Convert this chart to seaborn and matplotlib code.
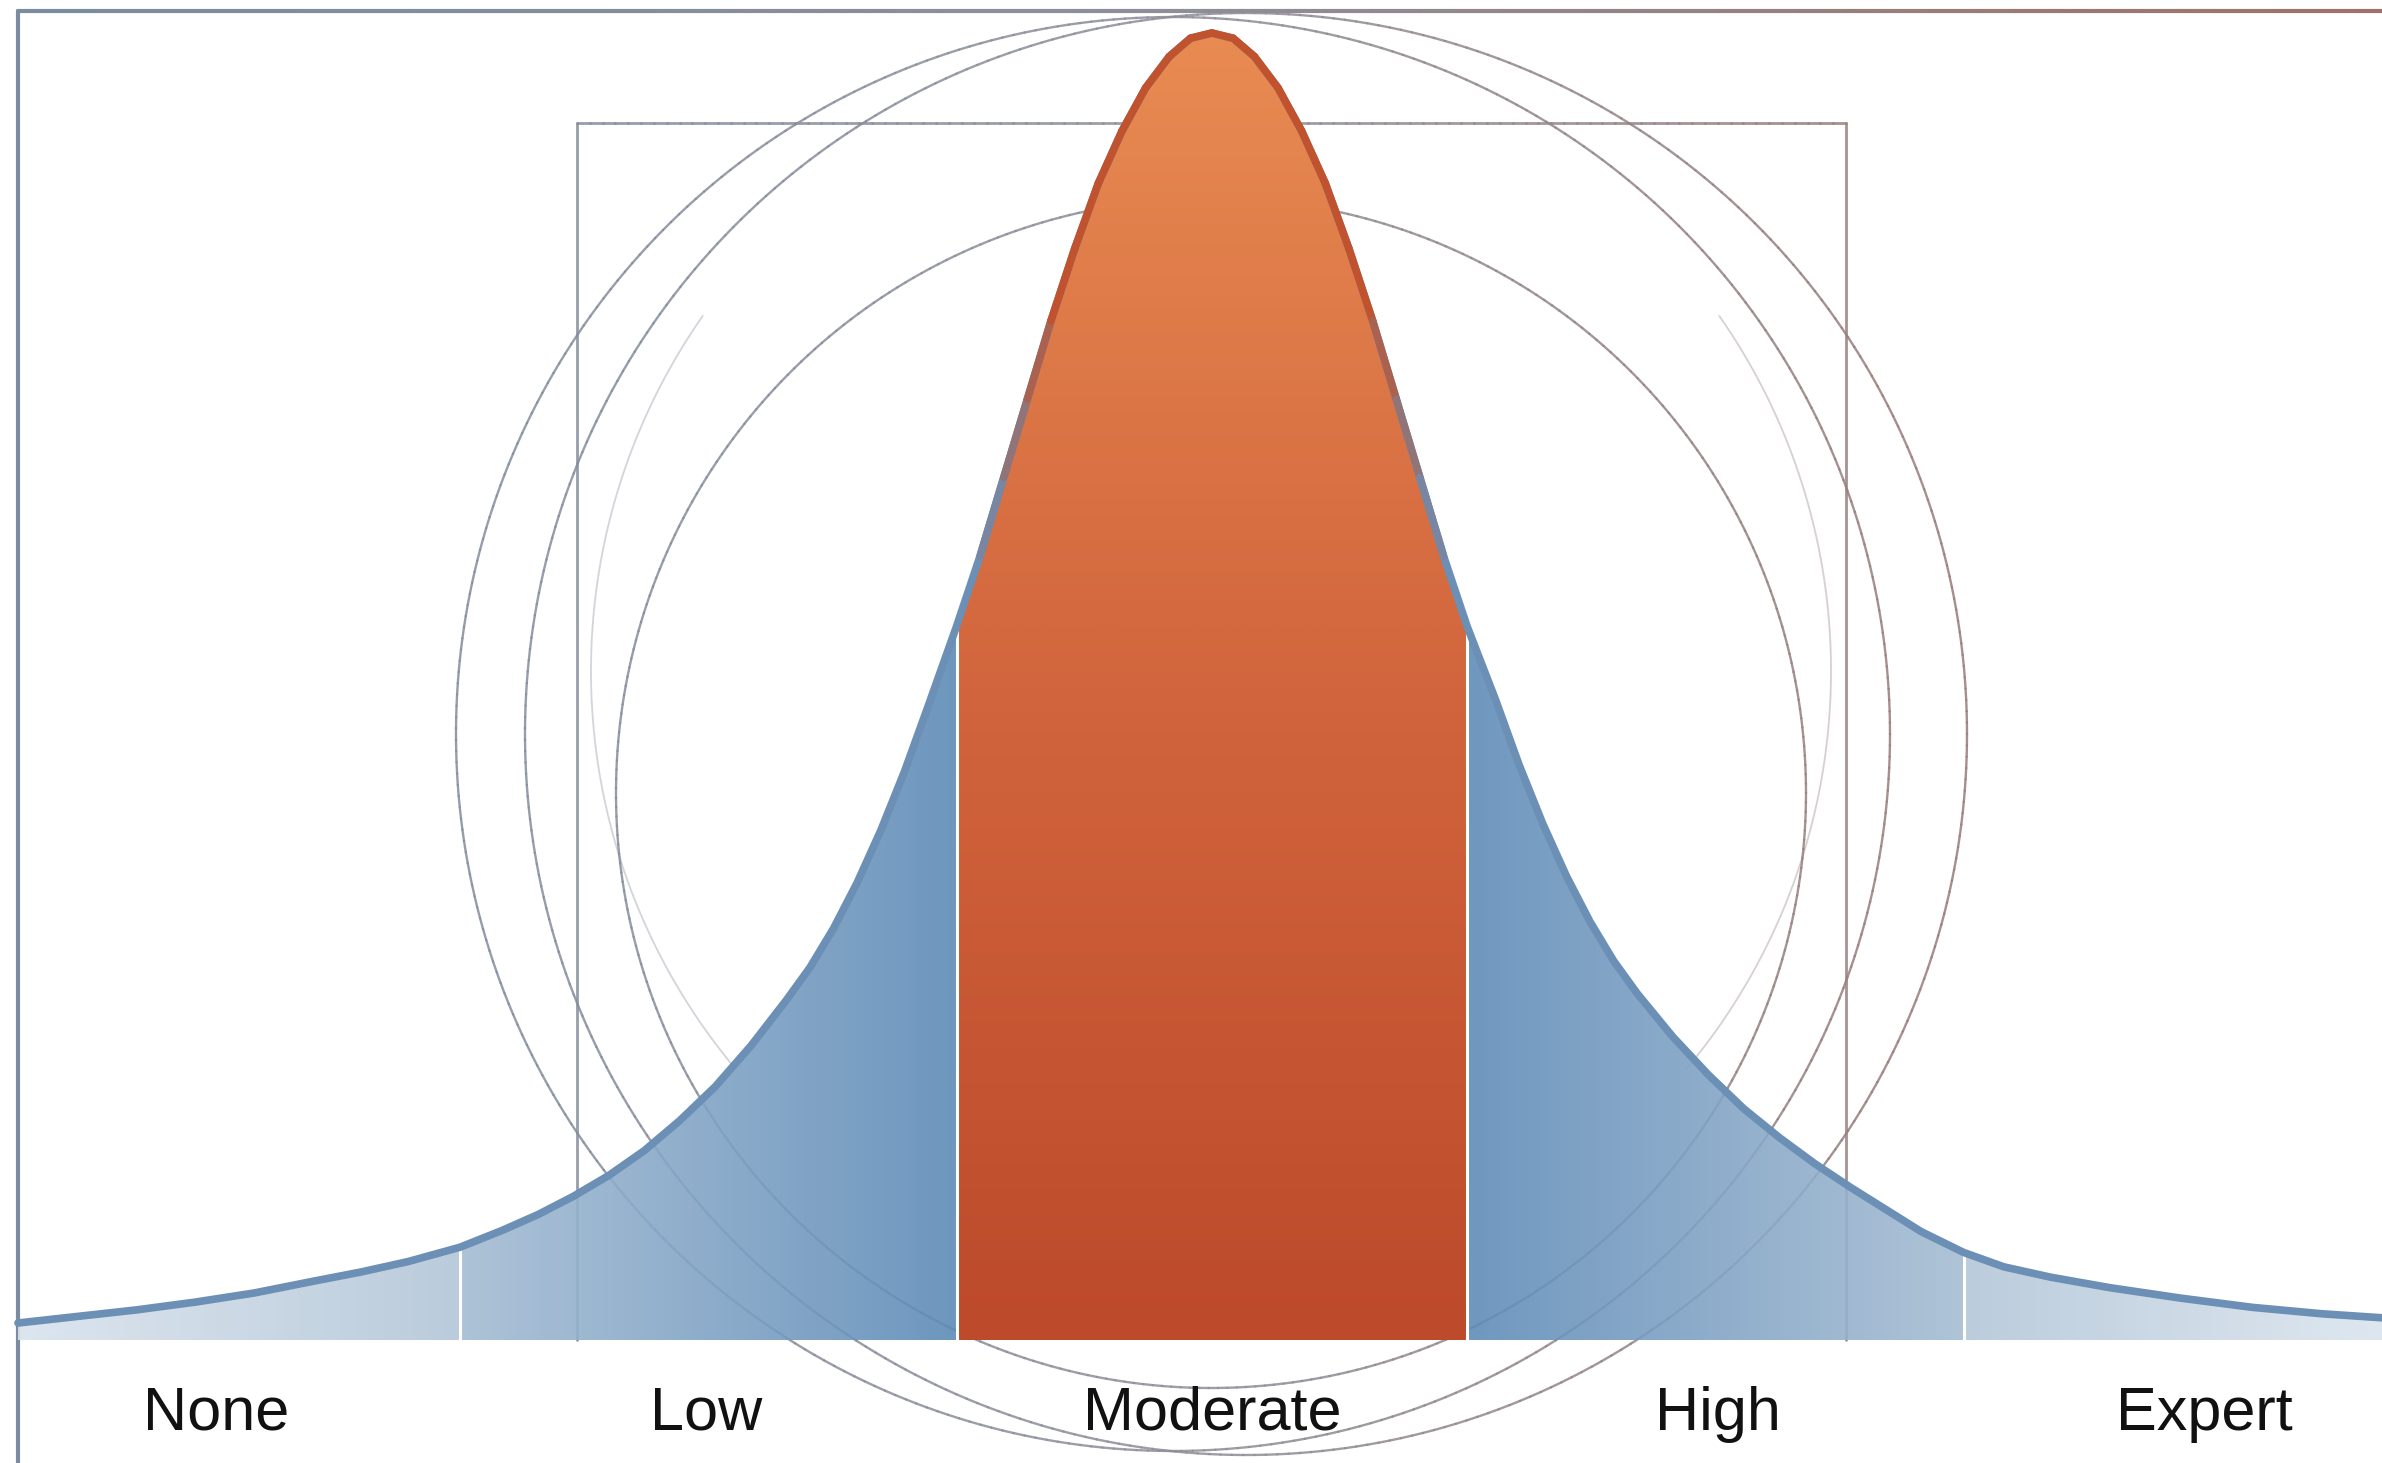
import numpy as np
import matplotlib
matplotlib.use('Agg')
import matplotlib.pyplot as plt
import seaborn as sns
from matplotlib.collections import LineCollection
from matplotlib.colors import LinearSegmentedColormap, Normalize, to_rgb
from matplotlib.path import Path

# skill score (0-100) vs relative share of people
score = np.array([-0.5, 2.0, 4.5, 7.0, 9.5, 12.0, 14.0, 16.0, 18.2, 20.0, 21.5, 23.0,
                  24.5, 26.0, 27.5, 29.0, 30.5, 32.0, 33.0, 34.0, 35.0, 36.0, 37.0,
                  38.0, 39.2, 40.2, 41.2, 42.2, 43.2, 44.2, 45.2, 46.2, 47.2, 48.2,
                  49.1, 50.0,
                  50.9, 51.8, 52.8, 53.8, 54.8, 55.8, 56.8, 57.8, 58.8, 59.8, 60.8,
                  62.0, 63.0, 64.0, 65.0, 66.0, 67.0, 68.0, 69.5, 71.0, 72.5, 74.0,
                  75.5, 77.0, 78.5, 80.0, 81.8, 83.5, 85.5, 88.0, 91.0, 94.0, 97.0,
                  99.5])
density = np.array([0.013, 0.018, 0.023, 0.029, 0.036, 0.045, 0.052, 0.060, 0.071, 0.084,
                    0.096, 0.110, 0.126, 0.145, 0.168, 0.194, 0.225, 0.26, 0.285, 0.315,
                    0.35, 0.39, 0.435, 0.485, 0.546, 0.60, 0.66, 0.72, 0.78, 0.835, 0.885,
                    0.925, 0.958, 0.982, 0.996, 1.0,
                    0.996, 0.982, 0.958, 0.925, 0.885, 0.835, 0.78, 0.72, 0.66, 0.60,
                    0.546, 0.49, 0.44, 0.395, 0.355, 0.32, 0.29, 0.265, 0.232, 0.203,
                    0.177, 0.155, 0.135, 0.117, 0.100, 0.083, 0.067, 0.056, 0.048, 0.040,
                    0.032, 0.025, 0.020, 0.017])

categories = ['None', 'Low', 'Moderate', 'High', 'Expert']
band_edges = [-0.5, 18.2, 39.2, 60.8, 81.8, 99.5]
label_pos = [7.9, 28.6, 50.0, 71.4, 92.0]

# band colours (left -> right for blue, bottom -> top for orange)
band_colors = [('#d9e3ed', '#b3c6d8'),
               ('#a4bcd3', '#5d8bb7'),
               ('#bc4a2b', '#d2653d', '#e88b52'),
               ('#5f8cb8', '#a6bdd3'),
               ('#b4c7d9', '#dbe5ee')]

W, H = 2382, 1463
sns.set_theme(style='white')
plt.rcParams['font.family'] = ['Liberation Sans', 'DejaVu Sans']

fig = plt.figure(figsize=(W / 100, H / 100), dpi=100)
fig.patch.set_facecolor('white')

# ---- decorative background (pixel coordinates)
bg = fig.add_axes([0, 0, 1, 1], zorder=0)
bg.set_xlim(0, W)
bg.set_ylim(H, 0)
bg.axis('off')

deco_cmap = LinearSegmentedColormap.from_list('deco', ['#7b8ca0', '#8e8e98', '#9e7268'])


def deco_line(xs, ys, lw=1.7, alpha=0.85):
    xs = np.asarray(xs, float)
    ys = np.asarray(ys, float)
    pts = np.column_stack([xs, ys]).reshape(-1, 1, 2)
    segs = np.concatenate([pts[:-1], pts[1:]], axis=1)
    lc = LineCollection(segs, cmap=deco_cmap, norm=Normalize(0, W),
                        linewidths=lw, alpha=alpha, capstyle='round')
    lc.set_array((xs[:-1] + xs[1:]) / 2)
    bg.add_collection(lc)


def deco_circle(cx, cy, r, t0=0, t1=2 * np.pi, lw=1.7, alpha=0.85):
    t = np.linspace(t0, t1, 400)
    deco_line(cx + r * np.cos(t), cy + r * np.sin(t), lw, alpha)


# frame
deco_line(np.linspace(18, W, 200), np.full(200, 11), lw=3.0, alpha=1)
deco_line([18, 18], [11, H], lw=3.0, alpha=1)
# square
deco_line(np.linspace(577, 1846, 100), np.full(100, 123), lw=2.0)
deco_line([577, 577], [123, 1340], lw=2.0)
deco_line([1846, 1846], [123, 1340], lw=2.0)
# circles
deco_circle(1173, 734, 717)
deco_circle(1246, 734, 721)
deco_circle(1211, 793, 595)
deco_circle(1211, 671, 620, np.radians(140), np.radians(215), lw=1.4, alpha=0.22)
deco_circle(1211, 671, 620, np.radians(-35), np.radians(40), lw=1.4, alpha=0.22)

# ---- main chart
ax = fig.add_axes([18 / W, (H - 1340) / H, (W - 18) / W, (1340 - 33) / H], zorder=1)
ax.patch.set_alpha(0)

for i, cols in enumerate(band_colors):
    lo, hi = band_edges[i], band_edges[i + 1]
    mask = (score >= lo) & (score <= hi)
    xs, ys = score[mask], density[mask]
    verts = np.vstack([np.column_stack([xs, ys]), [[hi, 0], [lo, 0], [xs[0], ys[0]]]])
    clip = Path(verts, closed=True)
    cmap = LinearSegmentedColormap.from_list('band%d' % i, list(cols))
    if len(cols) == 3:
        grad = np.linspace(0, 1, 256).reshape(-1, 1)
        im = ax.imshow(grad, extent=[lo, hi, 0, 1.0], origin='lower', aspect='auto',
                       cmap=cmap, zorder=2, interpolation='bicubic')
    else:
        grad = np.linspace(0, 1, 256).reshape(1, -1)
        im = ax.imshow(grad, extent=[lo, hi, 0, 1.0], origin='lower', aspect='auto',
                       cmap=cmap, zorder=2, alpha=0.9, interpolation='bicubic')
    im.set_clip_path(clip, ax.transData)

# outline
sns.lineplot(x=score, y=density, ax=ax, color='#6b8fb5', linewidth=5.5,
             estimator=None, sort=False, zorder=4)
ax.lines[-1].set_clip_on(False)
ax.lines[-1].set_solid_capstyle('round')
ax.lines[-1].set_solid_joinstyle('round')

blue, orange = np.array(to_rgb('#6b8fb5')), np.array(to_rgb('#c0522e'))
pts = np.column_stack([score, density]).reshape(-1, 1, 2)
segs = np.concatenate([pts[:-1], pts[1:]], axis=1)
mid_h = (density[:-1] + density[1:]) / 2
t = np.clip((mid_h - 0.6) / 0.2, 0, 1)
keep = t > 0
seg_cols = [tuple(blue * (1 - v) + orange * v) for v in t[keep]]
lc = LineCollection(segs[keep], colors=seg_cols, linewidths=5.5, zorder=5,
                    capstyle='round', joinstyle='round')
lc.set_clip_on(False)
ax.add_collection(lc)

# white dividers between the bands
inner = band_edges[1:-1]
ax.vlines(inner, 0, np.interp(inner, score, density), color='white', linewidth=2.2, zorder=3)

ax.set_xlim(band_edges[0], band_edges[-1])
ax.set_ylim(0, 1.0)
ax.set_xticks(label_pos, categories)
ax.set_yticks([])
ax.tick_params(axis='x', length=0, pad=33, labelsize=44, labelcolor='#111111')
ax.set_xlabel('')
ax.set_ylabel('')
sns.despine(ax=ax, left=True, bottom=True)

fig.savefig('out.png', dpi=100, facecolor='white')
